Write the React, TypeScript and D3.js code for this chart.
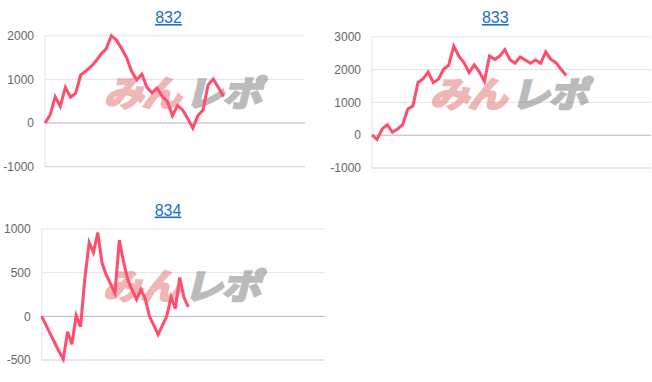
import React from "react";
import * as d3 from "d3";

const titles = ["832", "833", "834"];

const values832 = [0, 180, 600, 380, 817, 590, 680, 1100, 1190, 1290, 1420, 1580, 1700, 2000, 1900, 1710, 1500, 1180, 990, 1120, 817, 690, 800, 605, 495, 170, 400, 300, 100, -120, 170, 300, 875, 1010, 817, 605];
const values833 = [0, -130, 190, 320, 90, 185, 320, 800, 890, 1605, 1715, 1920, 1605, 1705, 2010, 2130, 2710, 2410, 2210, 1910, 2140, 1930, 1640, 2410, 2310, 2410, 2610, 2300, 2190, 2385, 2290, 2190, 2290, 2190, 2540, 2310, 2210, 2010, 1820];
const values834 = [0, -100, -200, -300, -400, -490, -175, -320, 10, -120, 430, 845, 730, 960, 610, 471, 368, 265, 874, 620, 414, 299, 192, 307, 203, 0, -103, -207, -103, 0, 222, 88, 444, 215, 107];

const ticks832 = [-1000, 0, 1000, 2000];
const ticks833 = [-1000, 0, 1000, 2000, 3000];
const ticks834 = [-500, 0, 500, 1000];

const xSlots = [51, 54.6, 65.7];

type Panel = {
  title: string;
  values: number[];
  ticks: number[];
  slots: number;
  left: number;
  right: number;
  top: number;
  bottom: number;
  titleX: number;
  titleY: number;
  wmX: number;
  wmY: number;
};

const panels: Panel[] = [
  { title: titles[0], values: values832, ticks: ticks832, slots: xSlots[0], left: 45, right: 305, top: 35.7, bottom: 166.7, titleX: 168.5, titleY: 23, wmX: 104, wmY: 106 },
  { title: titles[1], values: values833, ticks: ticks833, slots: xSlots[1], left: 372, right: 651, top: 36.7, bottom: 168, titleX: 495.3, titleY: 23, wmX: 430, wmY: 107 },
  { title: titles[2], values: values834, ticks: ticks834, slots: xSlots[2], left: 41.7, right: 325, top: 229, bottom: 360, titleX: 168, titleY: 215.5, wmX: 103, wmY: 299 },
];

const FONT = "'Liberation Sans', Arial, Helvetica, sans-serif";
const WMFONT = "'Noto Sans CJK JP', sans-serif";

function Chart({ p }: { p: Panel }) {
  const ext = d3.extent(p.ticks) as [number, number];
  const y = d3.scaleLinear().domain(ext).range([p.bottom, p.top]);
  const x = d3.scaleLinear().domain([0, p.slots]).range([p.left, p.right]);
  const line = d3
    .line<number>()
    .x((_, i) => x(i))
    .y((d) => y(d));
  return (
    <g>
      <text
        x={p.titleX}
        y={p.titleY}
        textAnchor="middle"
        fontSize={16}
        fontFamily={FONT}
        fill="#1a6fc9"
        textDecoration="underline"
        style={{ textDecoration: "underline" }}
      >
        {p.title}
      </text>
      {p.ticks.map((t) => (
        <line
          key={"g" + t}
          x1={p.left}
          x2={p.right}
          y1={y(t)}
          y2={y(t)}
          stroke={t === 0 ? "#b5b5b5" : t === ext[0] ? "#cfcfcf" : "#e4e4e4"}
          strokeWidth={1}
        />
      ))}
      <line x1={p.left} x2={p.left} y1={p.top} y2={p.bottom} stroke="#e4e4e4" strokeWidth={1} />
      {p.ticks.map((t) => (
        <text
          key={"l" + t}
          x={p.left - 11}
          y={y(t)}
          dy="0.35em"
          textAnchor="end"
          fontSize={12}
          fontFamily={FONT}
          fill="#666"
        >
          {t}
        </text>
      ))}
      <g transform={`translate(${p.wmX},${p.wmY}) skewX(-14) scale(1.12,1)`} opacity={0.5}>
        <text x={0} y={0} fontSize={35} fontWeight={700} fontFamily={WMFONT} fill="#e07070" stroke="#e07070" strokeWidth={2.5} letterSpacing={-1}>
          みん
        </text>
        <text x={72} y={0} fontSize={35} fontWeight={700} fontFamily={WMFONT} fill="#7a7a7a" stroke="#7a7a7a" strokeWidth={2.5} letterSpacing={-1}>
          レポ
        </text>
      </g>
      <path
        d={line(p.values) || ""}
        fill="none"
        stroke="#ff4d6b"
        strokeWidth={3}
        strokeLinejoin="miter"
      />
    </g>
  );
}

export default function App() {
  return (
    <svg
      width={652}
      height={382}
      style={{ position: "absolute", left: 0, top: 0, background: "#fff" }}
    >
      <rect width={652} height={382} fill="#fff" />
      {panels.map((p) => (
        <Chart key={p.title} p={p} />
      ))}
    </svg>
  );
}
